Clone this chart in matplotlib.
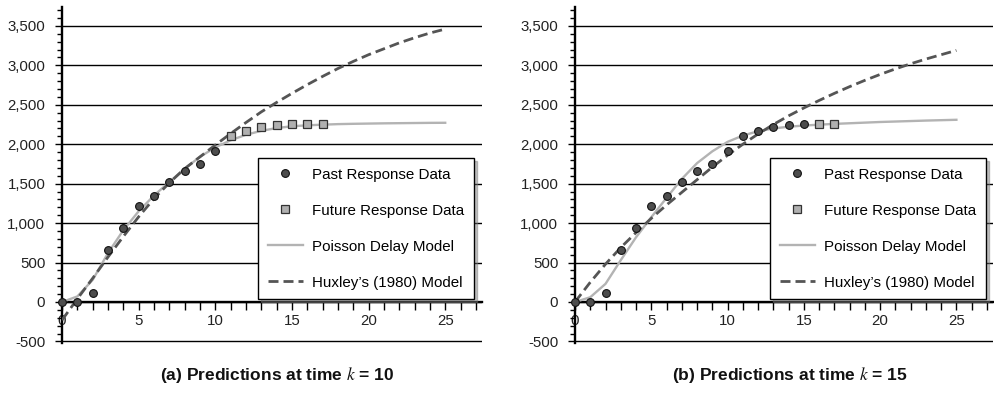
import matplotlib
matplotlib.use("Agg")
import matplotlib.pyplot as plt
from matplotlib.ticker import MultipleLocator, FuncFormatter
from matplotlib import font_manager

plt.rcParams['font.family'] = ['Liberation Sans', 'DejaVu Sans']
plt.rcParams['mathtext.fontset'] = 'stix'

# observed response (same data in both panels)
time_k = list(range(18))
response = [0, 0, 110, 665, 935, 1220, 1343, 1524, 1659, 1747, 1916,
            2100, 2170, 2215, 2240, 2255, 2255, 2255]

# model curves
model_t = list(range(26))
poisson_a = [0, 70, 280, 620, 910, 1150, 1350, 1520, 1690, 1840, 1960,
             2050, 2120, 2170, 2205, 2228, 2240, 2248, 2255, 2259, 2262,
             2265, 2267, 2269, 2271, 2272]
huxley_a = [-230, 40, 300, 570, 830, 1080, 1310, 1510, 1690, 1840, 1990,
            2135, 2275, 2410, 2530, 2645, 2755, 2860, 2960, 3050, 3135,
            3210, 3285, 3350, 3410, 3460]
poisson_b = [0, 60, 230, 530, 820, 1075, 1320, 1560, 1760, 1910, 2030,
             2110, 2165, 2200, 2222, 2237, 2248, 2258, 2266, 2274, 2282,
             2288, 2294, 2300, 2305, 2310]
huxley_b = [0, 250, 480, 690, 880, 1060, 1230, 1390, 1550, 1710, 1860,
            2000, 2130, 2250, 2360, 2460, 2555, 2645, 2730, 2810, 2885,
            2955, 3020, 3080, 3135, 3190]

panels = [
    ('(a) Predictions at time $k$ = 10', 10, poisson_a, huxley_a),
    ('(b) Predictions at time $k$ = 15', 15, poisson_b, huxley_b),
]

W, H = 994, 401
fig = plt.figure(figsize=(W / 100, H / 100), dpi=100)

# axes boxes in pixels: left, right
boxes = [(62, 482), (575, 993)]
top_px, bot_px = 7, 343

names = {f.name for f in font_manager.fontManager.ttflist}
if 'Liberation Sans Narrow' in names:
    cap_font, cap_size = ['Liberation Sans Narrow', 'DejaVu Sans'], 14
else:
    cap_font, cap_size = ['Liberation Sans', 'DejaVu Sans'], 12.5

for (caption, k, poisson, huxley), (x0, x1) in zip(panels, boxes):
    ax = fig.add_axes([x0 / W, (H - bot_px) / H, (x1 - x0) / W, (bot_px - top_px) / H])
    ax.set_xlim(0, 27.4)
    ax.set_ylim(-520, 3740)

    for s in ['top', 'right']:
        ax.spines[s].set_visible(False)
    ax.spines['bottom'].set_position(('data', 0))
    ax.spines['bottom'].set_linewidth(1.7)
    ax.spines['left'].set_linewidth(1.7)

    ax.yaxis.set_major_locator(MultipleLocator(500))
    ax.yaxis.set_minor_locator(MultipleLocator(100))
    ax.yaxis.set_major_formatter(FuncFormatter(lambda v, p: f'{int(v):,}'))
    ax.xaxis.set_major_locator(MultipleLocator(5))
    ax.xaxis.set_minor_locator(MultipleLocator(1))
    ax.tick_params(axis='y', which='major', length=5, width=1, pad=7, labelsize=10.8, labelcolor='#222222')
    ax.tick_params(axis='y', which='minor', length=3.5, width=1)
    ax.tick_params(axis='x', which='both', length=6, width=1, pad=3, labelsize=10.8, labelcolor='#222222')
    ax.yaxis.grid(True, color='black', linewidth=1.0)
    ax.set_axisbelow(True)

    past_t = [t for t in time_k if t <= k]
    past_r = [r for t, r in zip(time_k, response) if t <= k]
    fut_t = [t for t in time_k if t > k]
    fut_r = [r for t, r in zip(time_k, response) if t > k]

    ax.plot(model_t, poisson, color='#b3b3b3', linewidth=1.7, zorder=3, label='Poisson Delay Model')
    ax.plot(model_t, huxley, color='#555555', linewidth=2.0, dashes=(3.6, 1.8), zorder=4,
            label="Huxley\u2019s (1980) Model")
    ax.plot(past_t, past_r, 'o', color='#4d4d4d', markeredgecolor='#111111', markeredgewidth=0.8,
            markersize=5.6, zorder=5, label='Past Response Data', clip_on=False)
    ax.plot(fut_t, fut_r, 's', color='#b0b0b0', markeredgecolor='#333333', markeredgewidth=0.9,
            markersize=5.3, zorder=5, label='Future Response Data')

    h, l = ax.get_legend_handles_labels()
    order = [2, 3, 0, 1]
    leg = ax.legend([h[i] for i in order], [l[i] for i in order],
                    loc='upper left', bbox_to_anchor=(0.467, 0.551), borderaxespad=0,
                    fontsize=10.9, frameon=True, fancybox=False,
                    shadow={'color': '#777777', 'alpha': 0.45},
                    edgecolor='black', handlelength=2.3, handletextpad=0.6,
                    labelspacing=1.45, borderpad=0.65)
    leg.get_frame().set_linewidth(1.0)
    leg.set_zorder(10)

    cx = (x0 + 215) / W
    fig.text(cx, 1 - 375 / H, caption, ha='center', va='center', fontweight='bold',
             fontsize=cap_size, family=cap_font, color='#111111')

fig.savefig('out.png', dpi=100)
